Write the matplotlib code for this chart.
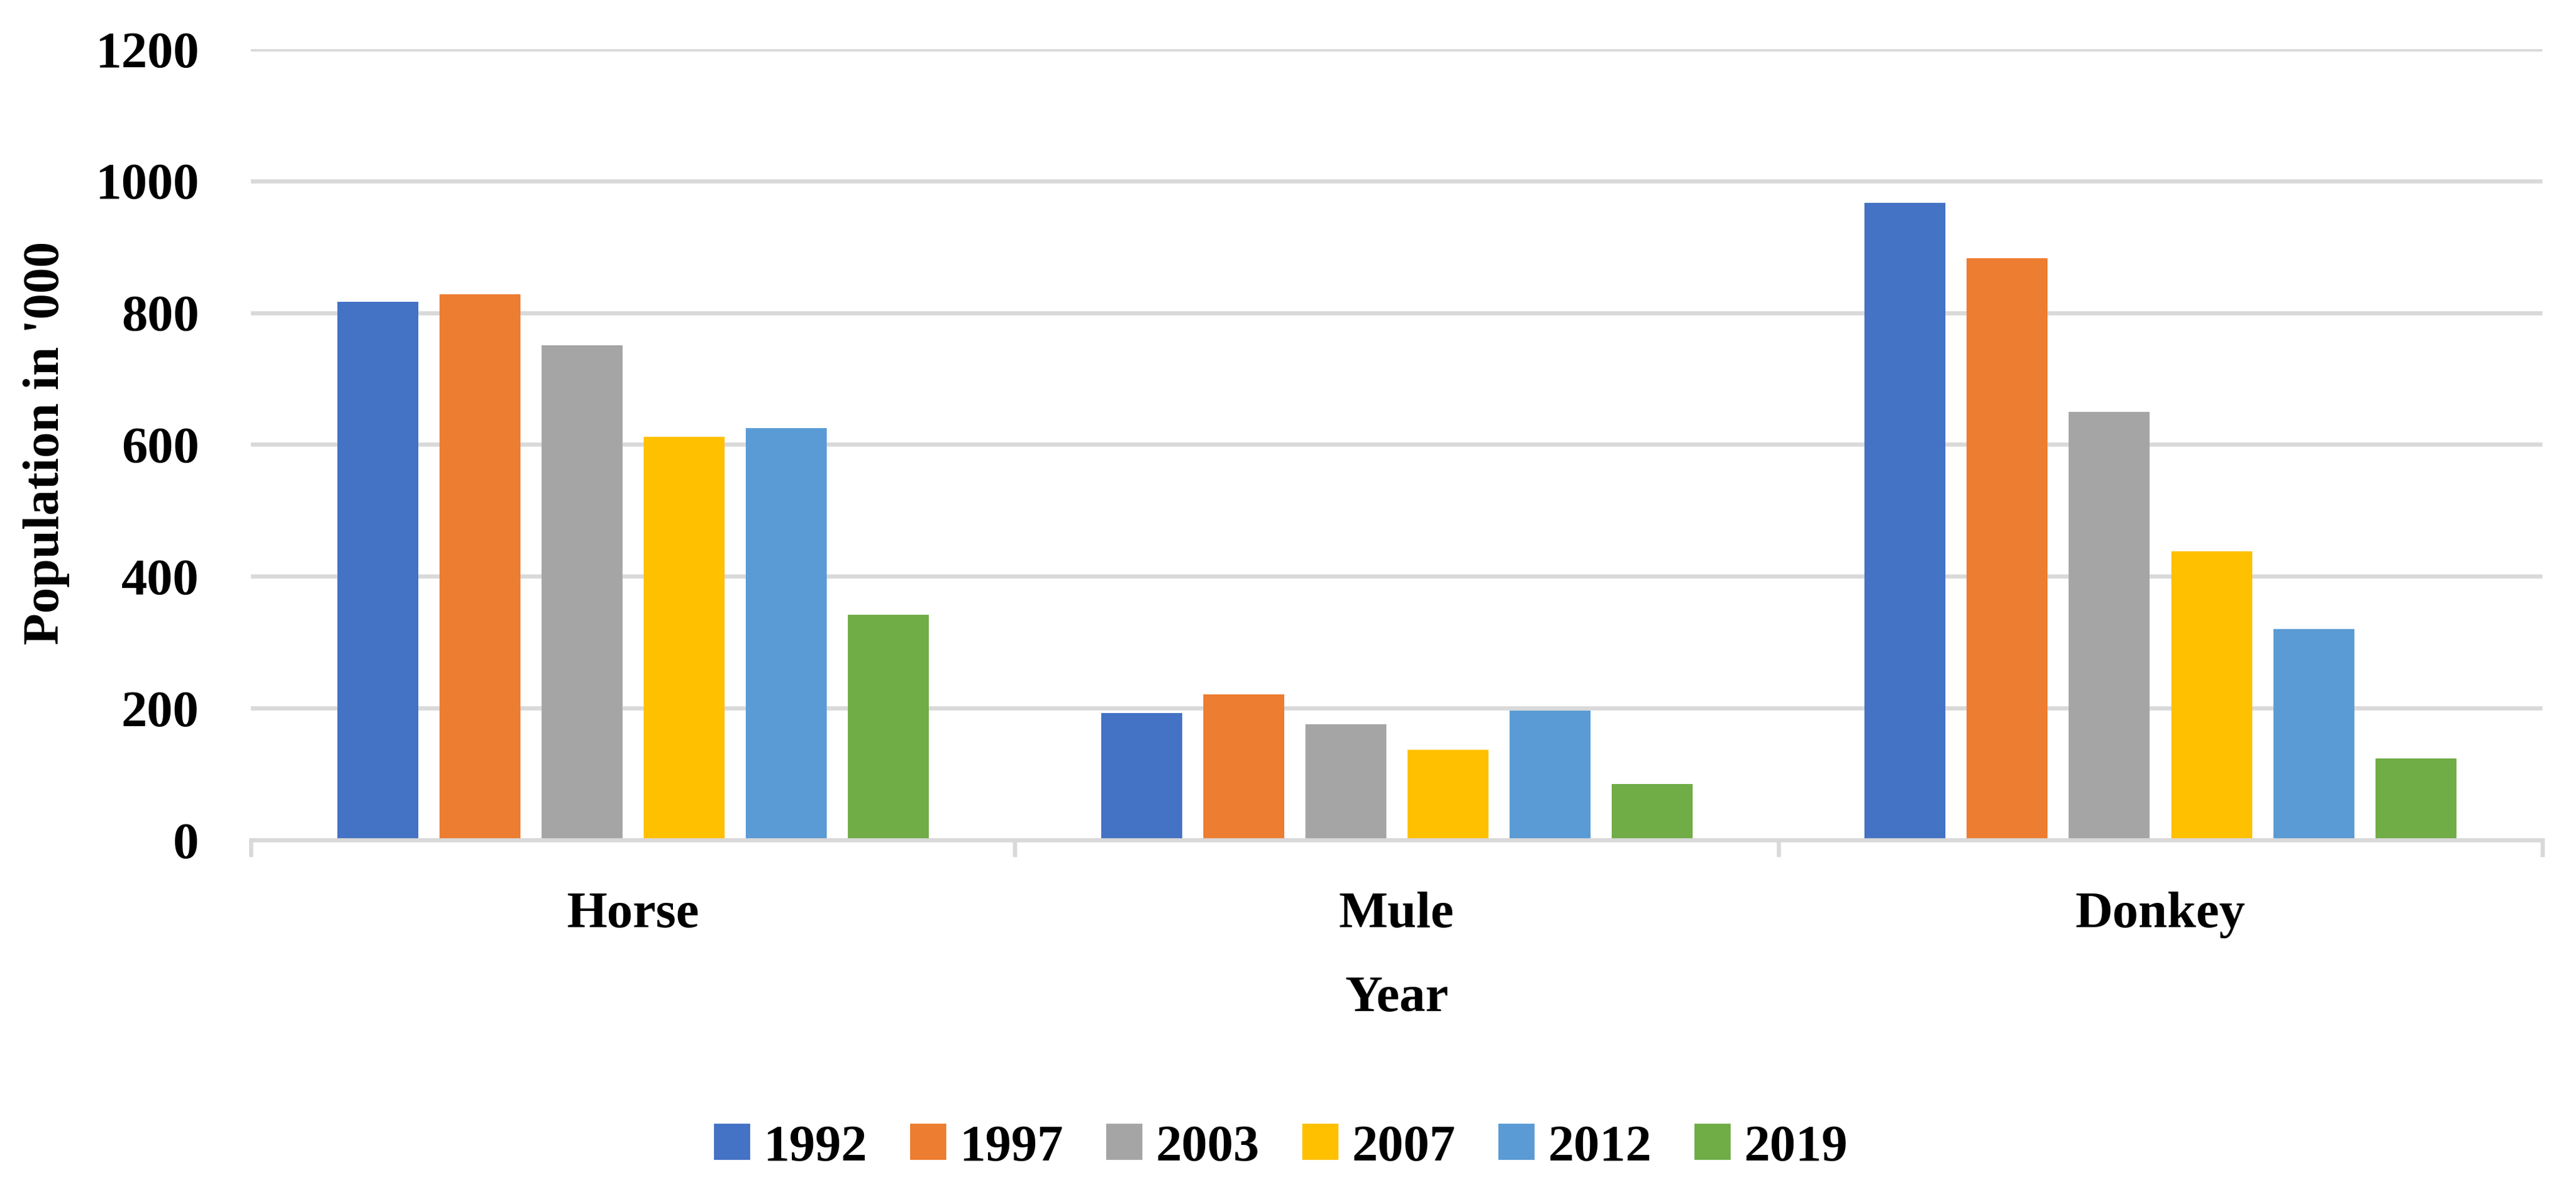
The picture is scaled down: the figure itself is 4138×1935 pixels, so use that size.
import numpy as np
import matplotlib.pyplot as plt
from matplotlib.patches import Patch

plt.rcParams['font.family'] = ['Liberation Serif', 'DejaVu Serif']
plt.rcParams['font.weight'] = 'bold'

animals = ["Horse", "Mule", "Donkey"]
years = ["1992", "1997", "2003", "2007", "2012", "2019"]
colors = ["#4472C4", "#ED7D31", "#A5A5A5", "#FFC000", "#5B9BD5", "#70AD47"]

# population in '000, one list per year (Horse, Mule, Donkey)
pop_1992 = [817, 193, 967]
pop_1997 = [828, 221, 883]
pop_2003 = [751, 176, 650]
pop_2007 = [612, 137, 438]
pop_2012 = [625, 196, 320]
pop_2019 = [342, 85, 124]
series = [pop_1992, pop_1997, pop_2003, pop_2007, pop_2012, pop_2019]

W, H, DPI = 4138, 1935, 300
fig = plt.figure(figsize=(W / DPI, H / DPI), dpi=DPI)
ax = fig.add_axes([403 / W, 1 - 1350 / H, (4084 - 403) / W, (1350 - 79) / H])

step = 164 / 1227
width = 130 / 1227
centers = np.arange(len(animals)) + 0.5
for i, (vals, c) in enumerate(zip(series, colors)):
    offs = (i - (len(series) - 1) / 2) * step
    ax.bar(centers + offs, vals, width=width, color=c, zorder=3)

ax.set_xlim(0, 3)
ax.set_ylim(0, 1200)
ax.set_yticks(np.arange(0, 1201, 200))
ax.grid(axis='y', color='#D9D9D9', linewidth=1.6, zorder=0)
ax.set_axisbelow(True)
for s in ['top', 'right', 'left']:
    ax.spines[s].set_visible(False)
ax.spines['bottom'].set_color('#D9D9D9')
ax.spines['bottom'].set_linewidth(1.6)
ax.spines['bottom'].set_zorder(4)

ax.tick_params(axis='y', length=0, pad=20, labelsize=20)
ax.set_xticks([0, 1, 2, 3])
ax.set_xticklabels([])
ax.tick_params(axis='x', which='major', length=6.5, width=1.6, color='#D9D9D9')
ax.set_xticks(centers, minor=True)
ax.set_xticklabels(animals, minor=True)
ax.tick_params(axis='x', which='minor', length=0, pad=20, labelsize=20)
for lab in ax.get_yticklabels() + ax.get_xticklabels(minor=True):
    lab.set_fontweight('bold')

fig.text(75 / W, 1 - 712 / H, "Population in '000", rotation=90,
         ha='center', va='center', fontsize=20, fontweight='bold')
fig.text((403 + 4084) / 2 / W, 1 - 1605 / H, "Year",
         ha='center', va='center', fontsize=20, fontweight='bold')

handles = [Patch(color=c, label=y) for c, y in zip(colors, years)]
fig.legend(handles=handles, loc='center', bbox_to_anchor=(0.4975, 1 - 1845 / H),
           ncol=6, frameon=False, handlelength=0.65,
           handleheight=0.62, handletextpad=0.28, columnspacing=0.85,
           borderaxespad=0, prop={'weight': 'bold', 'size': 20})

fig.savefig("out.png", dpi=DPI)
